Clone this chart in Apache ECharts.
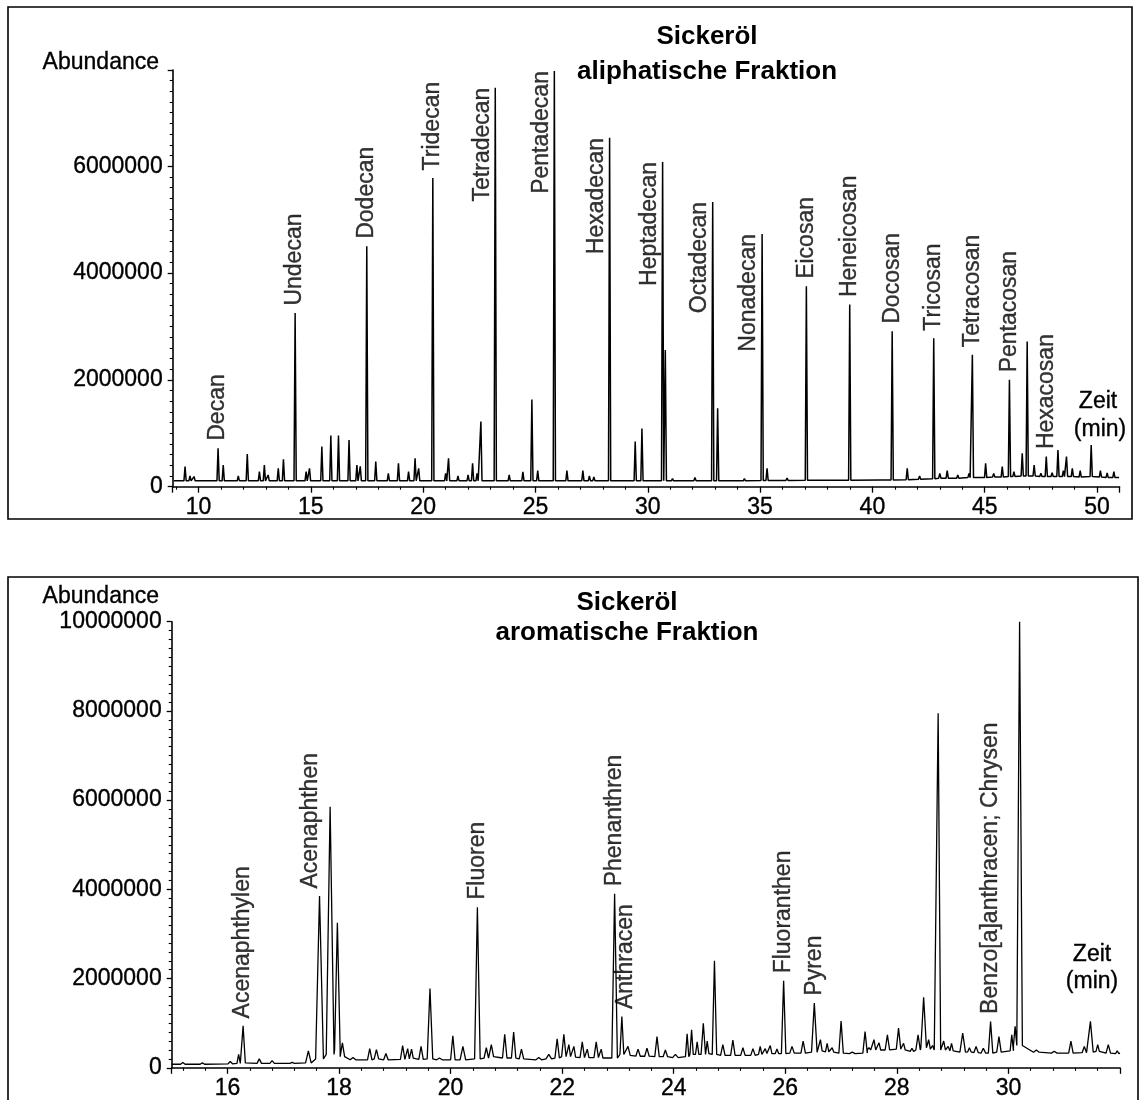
<!DOCTYPE html>
<html><head><meta charset="utf-8">
<script src="https://cdn.jsdelivr.net/npm/echarts/dist/echarts.min.js"></script>
<style>html,body{margin:0;padding:0;background:#fff}#c{width:1140px;height:1100px}</style>
</head><body><div id="c"></div>
<script>
// ===== DATA =====
// Aliphatic fraction: [retention time (min), peak abundance, local baseline]
const aliPeaks = [
  [9.40, 375000, 110000], [9.62, 200000, 110000], [9.80, 190000, 110000],
  [10.87, 720000, 110000], [11.10, 406000, 110000], [11.77, 200000, 110000],
  [12.17, 613000, 110000], [12.71, 281000, 110000], [12.93, 406000, 110000],
  [13.10, 220000, 110000], [13.55, 344000, 110000], [13.78, 513000, 110000],
  [14.30, 3250000, 110000], [14.79, 281000, 110000], [14.94, 344000, 110000],
  [15.49, 750000, 110000], [15.89, 956000, 110000], [16.23, 956000, 110000],
  [16.70, 875000, 110000], [17.05, 406000, 110000], [17.20, 380000, 110000],
  [17.49, 4500000, 110000], [17.89, 469000, 110000], [18.45, 250000, 110000],
  [18.90, 438000, 110000], [19.35, 281000, 110000], [19.64, 531000, 110000],
  [19.80, 344000, 110000], [20.43, 5780000, 110000], [21.00, 250000, 110000],
  [21.13, 531000, 110000], [21.55, 200000, 110000], [22.00, 220000, 110000],
  [22.20, 438000, 110000], [22.40, 250000, 110000], [22.57, 1220000, 110000],
  [23.21, 7470000, 110000], [23.83, 220000, 110000], [24.44, 280000, 110000],
  [24.84, 1630000, 110000], [25.10, 300000, 110000], [25.84, 7780000, 110000],
  [26.40, 300000, 110000], [27.11, 300000, 110000], [27.40, 200000, 110000],
  [27.60, 180000, 110000], [28.30, 6530000, 110000], [29.44, 844000, 110000],
  [29.74, 1090000, 110000], [30.66, 6080000, 110000], [30.78, 2560000, 110000],
  [31.10, 150000, 110000], [32.10, 170000, 110000], [32.89, 5330000, 110000],
  [33.11, 1470000, 110000], [34.30, 150000, 110000], [35.09, 4730000, 115000],
  [35.31, 344000, 115000], [36.20, 160000, 115000], [37.06, 3750000, 120000],
  [38.40, 140000, 120000], [38.99, 3410000, 120000], [40.43, 160000, 125000],
  [40.88, 2910000, 125000], [41.55, 344000, 130000], [42.10, 200000, 140000],
  [42.73, 2780000, 150000], [43.00, 250000, 160000], [43.33, 300000, 160000],
  [43.80, 220000, 160000], [44.30, 250000, 170000], [44.45, 2470000, 170000],
  [45.04, 438000, 170000], [45.40, 250000, 180000], [45.78, 375000, 180000],
  [46.10, 2000000, 190000], [46.30, 280000, 190000], [46.67, 625000, 200000],
  [46.89, 2720000, 200000], [47.20, 406000, 200000], [47.50, 250000, 190000],
  [47.74, 563000, 190000], [48.00, 260000, 190000], [48.26, 688000, 190000],
  [48.50, 300000, 190000], [48.64, 563000, 190000], [48.90, 344000, 190000],
  [49.25, 300000, 180000], [49.74, 781000, 190000], [50.15, 300000, 180000],
  [50.45, 260000, 170000], [50.75, 280000, 170000]
];
const aliTraceEnds = [[8.9, 110000], [50.98, 170000]];
const aliLabelNames = ['Decan', 'Undecan', 'Dodecan', 'Tridecan', 'Tetradecan', 'Pentadecan',
  'Hexadecan', 'Heptadecan', 'Octadecan', 'Nonadecan', 'Eicosan', 'Heneicosan', 'Docosan',
  'Tricosan', 'Tetracosan', 'Pentacosan', 'Hexacosan'];
const aliLabelTimes = [10.87, 14.30, 17.49, 20.43, 23.21, 25.84, 28.30, 30.66, 32.89, 35.09,
  37.06, 38.99, 40.88, 42.73, 44.45, 46.10, 47.74];
const aliXTickLabels = [10, 15, 20, 25, 30, 35, 40, 45, 50];
const aliYTickLabels = [0, 2000000, 4000000, 6000000];

// Aromatic fraction: [retention time (min), peak abundance, local baseline, half width (min)]
const aroPeaks = [
  [15.20, 120000, 80000, 0.04], [15.55, 110000, 80000, 0.04], [16.05, 140000, 90000, 0.04],
  [16.20, 300000, 100000, 0.03], [16.28, 940000, 110000, 0.04], [16.57, 200000, 100000, 0.04],
  [16.80, 160000, 100000, 0.04], [17.16, 120000, 100000, 0.04], [17.45, 380000, 110000, 0.05],
  [17.65, 3850000, 200000, 0.07], [17.84, 5850000, 300000, 0.07], [17.97, 3250000, 400000, 0.05],
  [18.06, 560000, 250000, 0.04], [18.25, 230000, 180000, 0.05], [18.55, 430000, 180000, 0.04],
  [18.67, 410000, 200000, 0.04], [18.84, 320000, 180000, 0.04], [19.14, 500000, 190000, 0.04],
  [19.23, 430000, 200000, 0.03], [19.30, 420000, 220000, 0.03], [19.47, 480000, 190000, 0.04],
  [19.63, 1780000, 200000, 0.05], [19.80, 220000, 180000, 0.05], [20.04, 720000, 180000, 0.04],
  [20.22, 480000, 180000, 0.05], [20.48, 3600000, 200000, 0.05], [20.64, 450000, 220000, 0.04],
  [20.73, 520000, 250000, 0.04], [20.97, 750000, 220000, 0.04], [21.13, 800000, 220000, 0.04],
  [21.27, 420000, 200000, 0.04], [21.58, 230000, 180000, 0.05], [21.76, 300000, 200000, 0.05],
  [21.91, 650000, 220000, 0.04], [22.03, 750000, 250000, 0.04], [22.12, 520000, 250000, 0.03],
  [22.21, 480000, 240000, 0.03], [22.36, 580000, 230000, 0.04], [22.45, 420000, 230000, 0.03],
  [22.61, 580000, 230000, 0.04], [22.70, 420000, 220000, 0.03], [22.94, 3900000, 220000, 0.05],
  [23.07, 1150000, 300000, 0.035], [23.18, 480000, 280000, 0.04], [23.36, 420000, 260000, 0.04],
  [23.52, 440000, 260000, 0.04], [23.70, 700000, 250000, 0.04], [23.85, 400000, 250000, 0.04],
  [24.03, 300000, 230000, 0.05], [24.24, 760000, 250000, 0.03], [24.32, 850000, 300000, 0.03],
  [24.42, 580000, 300000, 0.03], [24.53, 1000000, 300000, 0.04], [24.60, 600000, 320000, 0.03],
  [24.73, 2400000, 300000, 0.04], [24.88, 520000, 280000, 0.04], [25.06, 620000, 280000, 0.04],
  [25.24, 450000, 280000, 0.04], [25.42, 430000, 280000, 0.04], [25.55, 480000, 300000, 0.03],
  [25.64, 430000, 320000, 0.03], [25.73, 500000, 320000, 0.03], [25.85, 420000, 320000, 0.03],
  [25.97, 1950000, 320000, 0.04], [26.12, 480000, 330000, 0.04], [26.32, 600000, 330000, 0.04],
  [26.52, 1450000, 350000, 0.05], [26.63, 630000, 380000, 0.03], [26.75, 550000, 360000, 0.03],
  [26.84, 450000, 350000, 0.03], [27.00, 1050000, 330000, 0.04], [27.20, 350000, 320000, 0.05],
  [27.43, 810000, 330000, 0.04], [27.50, 450000, 400000, 0.03], [27.59, 630000, 400000, 0.03],
  [27.68, 560000, 400000, 0.03], [27.83, 740000, 400000, 0.04], [28.03, 890000, 420000, 0.04],
  [28.12, 550000, 400000, 0.03], [28.27, 440000, 370000, 0.03], [28.38, 740000, 400000, 0.04],
  [28.48, 1580000, 450000, 0.05], [28.57, 630000, 420000, 0.03], [28.64, 500000, 400000, 0.03],
  [28.74, 7950000, 400000, 0.045], [28.84, 600000, 400000, 0.03], [28.92, 480000, 380000, 0.03],
  [28.98, 550000, 380000, 0.03], [29.18, 780000, 350000, 0.05], [29.30, 450000, 360000, 0.03],
  [29.42, 480000, 340000, 0.04], [29.55, 440000, 330000, 0.04], [29.68, 1040000, 330000, 0.04],
  [29.83, 700000, 350000, 0.04], [30.06, 740000, 380000, 0.03], [30.12, 930000, 500000, 0.03],
  [30.20, 10000000, 500000, 0.05], [30.50, 400000, 350000, 0.05], [30.82, 370000, 330000, 0.05],
  [31.12, 600000, 330000, 0.04], [31.36, 480000, 340000, 0.04], [31.47, 1040000, 350000, 0.05],
  [31.60, 520000, 370000, 0.03], [31.79, 520000, 330000, 0.04], [31.95, 380000, 320000, 0.03]
];
const aroTraceEnds = [[15.0, 80000], [32.0, 330000]];
const aroLabelNames = ['Acenaphthylen', 'Acenaphthen', 'Fluoren', 'Phenanthren', 'Anthracen',
  'Fluoranthen', 'Pyren', 'Benzo[a]anthracen; Chrysen'];
const aroLabelTimes = [16.28, 17.49, 20.48, 22.94, 23.13, 25.97, 26.52, 29.68];
const aroLabelValues = [940000, 3850000, 3600000, 3900000, 1150000, 1950000, 1450000, 1040000];
const aroXTickLabels = [16, 18, 20, 22, 24, 26, 28, 30];
const aroYTickLabels = [0, 2000000, 4000000, 6000000, 8000000, 10000000];

// ===== LAYOUT / STYLE =====
const FONT = "'Liberation Sans', Arial, Helvetica, sans-serif";
const ALI_HALF_WIDTH = 0.05;
const LEFT_LABELS = new Set(['Tetradecan', 'Pentadecan', 'Hexadecan', 'Heptadecan', 'Octadecan', 'Nonadecan']);
const HEAVY = { textBorderColor: '#000', textBorderWidth: 0.35 };

function buildTrace(peaks, ends, hwDefault) {
  const pts = [ends[0].slice(), ends[1].slice()];
  peaks.forEach(p => {
    const w = p[3] != null ? p[3] : hwDefault;
    pts.push([p[0] - w, p[2]], [p[0], p[1]], [p[0] + w, p[2]]);
  });
  pts.sort((a, b) => a[0] - b[0]);
  return pts;
}
function labelStyle(side) {
  const base = Object.assign({ show: true, formatter: '{b}', rotate: 90, fontSize: 23, color: '#000', fontFamily: FONT }, HEAVY);
  if (side === 'left') return Object.assign(base, { position: 'left', distance: 1, align: 'right', verticalAlign: 'bottom' });
  return Object.assign(base, { position: 'top', distance: 7, align: 'left', verticalAlign: 'middle' });
}
const aliLabelItems = aliLabelNames.map((n, i) => {
  const t = aliLabelTimes[i];
  const pk = aliPeaks.find(p => p[0] === t);
  return { name: n, value: [t, pk[1]], label: labelStyle(LEFT_LABELS.has(n) ? 'left' : 'up') };
});
const aroLabelItems = aroLabelNames.map((n, i) => ({
  name: n, value: [aroLabelTimes[i], aroLabelValues[i]], label: labelStyle('up')
}));

function xAxis(gi, min, max, ticks) {
  return {
    gridIndex: gi, type: 'value', min: min, max: max, splitNumber: 8,
    axisLine: { onZero: false, lineStyle: { color: '#000', width: 1.6 } },
    axisTick: { show: true, length: 6, lineStyle: { color: '#000', width: 1.3 } },
    minorTick: { show: true, splitNumber: 5, length: 3, lineStyle: { color: '#000', width: 1.1 } },
    splitLine: { show: false },
    axisLabel: Object.assign({ fontSize: 23, color: '#000', fontFamily: FONT, margin: 9,
      formatter: v => ticks.indexOf(Math.round(v * 1000) / 1000) >= 0 ? String(v) : '' }, HEAVY)
  };
}
function yAxis(gi, max, ticks) {
  return {
    gridIndex: gi, type: 'value', min: 0, max: max, interval: 2000000,
    axisLine: { show: true, lineStyle: { color: '#000', width: 1.6 } },
    axisTick: { show: true, length: 5, lineStyle: { color: '#000', width: 1.3 } },
    minorTick: { show: true, splitNumber: 10, length: 3, lineStyle: { color: '#000', width: 1.1 } },
    splitLine: { show: false },
    axisLabel: Object.assign({ fontSize: 23, color: '#000', fontFamily: FONT, margin: 10,
      formatter: v => ticks.indexOf(v) >= 0 ? String(v) : '' }, HEAVY)
  };
}
function txt(x, y, s, opts) {
  return { type: 'text', x: x, y: y, silent: true,
    style: Object.assign({ text: s, fill: '#000', font: '23px ' + FONT, textAlign: 'center', textVerticalAlign: 'middle',
      stroke: '#000', lineWidth: 0.35 }, opts || {}) };
}

const chart = echarts.init(document.getElementById('c'), null, { renderer: 'canvas', width: 1140, height: 1100 });
chart.setOption({
  animation: false,
  backgroundColor: '#fff',
  grid: [
    { left: 172.7, top: 70, width: 946.8, height: 416.7 },
    { left: 171.7, top: 621.7, width: 948.3, height: 450 }
  ],
  xAxis: [xAxis(0, 8.85, 51, aliXTickLabels), xAxis(1, 15, 32, aroXTickLabels)],
  yAxis: [yAxis(0, 7800000, aliYTickLabels), yAxis(1, 10000000, aroYTickLabels)],
  series: [
    { type: 'line', xAxisIndex: 0, yAxisIndex: 0, data: buildTrace(aliPeaks, aliTraceEnds, ALI_HALF_WIDTH),
      showSymbol: false, symbol: 'none', silent: true, lineStyle: { color: '#000', width: 1.5 } },
    { type: 'line', xAxisIndex: 1, yAxisIndex: 1, data: buildTrace(aroPeaks, aroTraceEnds, 0.04),
      showSymbol: false, symbol: 'none', silent: true, lineStyle: { color: '#000', width: 1.3 } },
    { type: 'scatter', xAxisIndex: 0, yAxisIndex: 0, data: aliLabelItems, symbolSize: 1, silent: true,
      itemStyle: { color: 'rgba(0,0,0,0)' }, z: 5 },
    { type: 'scatter', xAxisIndex: 1, yAxisIndex: 1, data: aroLabelItems, symbolSize: 1, silent: true,
      itemStyle: { color: 'rgba(0,0,0,0)' }, z: 5 }
  ],
  graphic: [
    { type: 'rect', silent: true, shape: { x: 8, y: 7, width: 1124, height: 512 },
      style: { fill: 'none', stroke: '#000', lineWidth: 1.6 } },
    { type: 'rect', silent: true, shape: { x: 8, y: 577, width: 1130, height: 540 },
      style: { fill: 'none', stroke: '#000', lineWidth: 1.6 } },
    txt(159, 63, 'Abundance', { textAlign: 'right' }),
    txt(159, 597, 'Abundance', { textAlign: 'right' }),
    txt(707, 37, 'Sickeröl', { font: 'bold 26px ' + FONT, lineWidth: 0 }),
    txt(707, 72, 'aliphatische Fraktion', { font: 'bold 26px ' + FONT, lineWidth: 0 }),
    txt(627, 603, 'Sickeröl', { font: 'bold 26px ' + FONT, lineWidth: 0 }),
    txt(627, 633, 'aromatische Fraktion', { font: 'bold 26px ' + FONT, lineWidth: 0 }),
    txt(1098, 402, 'Zeit'),
    txt(1100, 430, '(min)'),
    txt(1092, 955, 'Zeit'),
    txt(1092, 982, '(min)')
  ]
});
</script></body></html>
